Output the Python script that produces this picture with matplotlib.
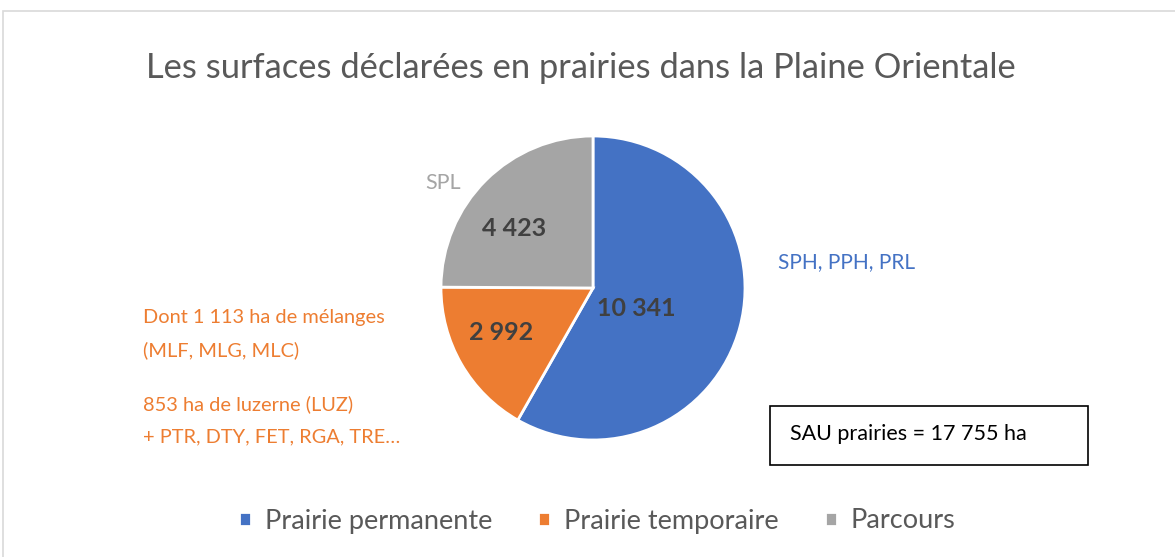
import matplotlib.pyplot as plt
from matplotlib.patches import Rectangle

plt.rcParams['font.family'] = ['Lato', 'DejaVu Sans']

categories = ['Prairie permanente', 'Prairie temporaire', 'Parcours']
values = [10341, 2992, 4423]
value_labels = ['10 341', '2 992', '4 423']
colors = ['#4472C4', '#ED7D31', '#A5A5A5']
title = 'Les surfaces déclarées en prairies dans la Plaine Orientale'
total_text = 'SAU prairies = 17 755 ha'

fig = plt.figure(figsize=(11.75, 5.57), dpi=100)

# cadre gris clair
fig.add_artist(Rectangle((3/1175, -0.01), 1.1, 1 - 11/557 + 0.01, transform=fig.transFigure,
                         fill=False, edgecolor='#D9D9D9', linewidth=1.2))

fig.text(581/1175, 1 - 68/557, title, ha='center', va='center', fontsize=24.8, color='#595959')

ax = fig.add_axes([441/1175, 117/557, 304/1175, 304/557])
wedges, _ = ax.pie(values, colors=colors, startangle=90, counterclock=False,
                   wedgeprops=dict(edgecolor='white', linewidth=2), radius=1)
ax.set_xlim(-1, 1)
ax.set_ylim(-1, 1)
ax.set_aspect('auto')

# valeurs dans les parts
pos = [(636, 309), (501, 332), (514, 228)]
for (px, py), t in zip(pos, value_labels):
    fig.text(px/1175, 1 - py/557, t, ha='center', va='center', fontsize=18,
             fontweight='bold', color='#404040')

fig.text(778/1175, 1 - 262/557, 'SPH, PPH, PRL', ha='left', va='center', fontsize=15, color=colors[0])
fig.text(425/1175, 1 - 183/557, 'SPL', ha='left', va='center', fontsize=15.5, color=colors[2])
orange_lines = [('Dont 1 113 ha de mélanges', 318), ('(MLF, MLG, MLC)', 350),
                ('853 ha de luzerne (LUZ)', 404), ('+ PTR, DTY, FET, RGA, TRE…', 437)]
for t, py in orange_lines:
    fig.text(143/1175, 1 - py/557, t, ha='left', va='center', fontsize=14.4, color=colors[1])

fig.add_artist(Rectangle((770/1175, 1 - 465/557), 318/1175, 59/557, transform=fig.transFigure,
                         fill=False, edgecolor='black', linewidth=1.2))
fig.text(790/1175, 1 - 434/557, total_text, ha='left', va='center', fontsize=15.5, color='black')

leg = fig.legend(wedges, categories, loc='center', bbox_to_anchor=(597/1175, 1 - 521/557), ncol=3,
                 frameon=False, fontsize=19.5, handlelength=0.45, handleheight=0.45,
                 columnspacing=1.7, handletextpad=0.5)
for t in leg.get_texts():
    t.set_color('#595959')

fig.savefig('out.png', dpi=100)
